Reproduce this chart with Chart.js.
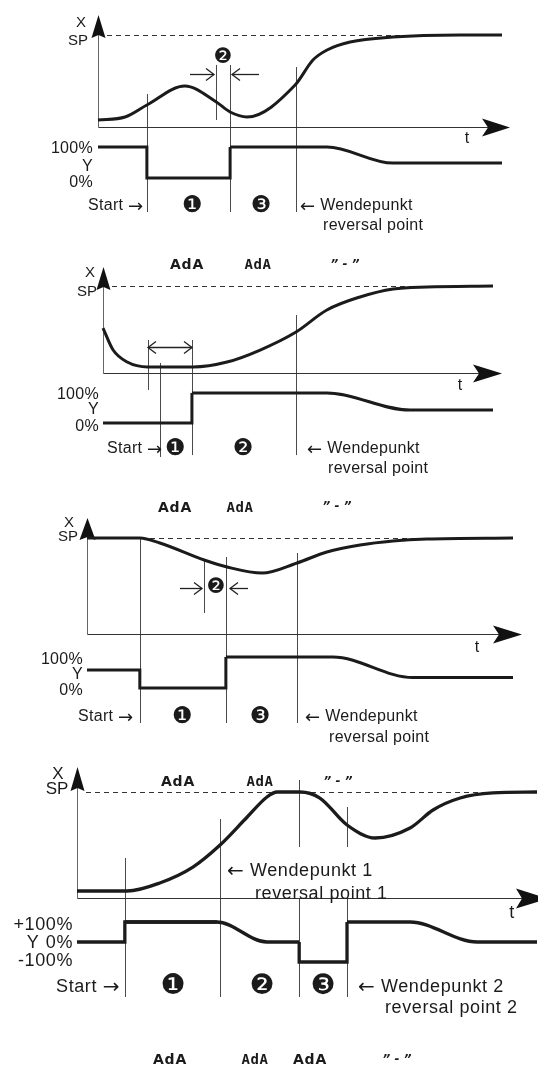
<!DOCTYPE html>
<html><head><meta charset="utf-8">
<script src="https://cdn.jsdelivr.net/npm/chart.js@4/dist/chart.umd.min.js"></script>
<style>
html,body{margin:0;padding:0;background:#fff;}
#wrap{position:relative;width:538px;height:1068px;overflow:hidden;}
canvas{position:absolute;left:0;}
</style></head>
<body><div id="wrap">
<canvas id="c1" width="538" height="240" style="top:0px"></canvas>
<canvas id="c2" width="538" height="240" style="top:240px"></canvas>
<canvas id="c3" width="538" height="270" style="top:480px"></canvas>
<canvas id="c4" width="538" height="318" style="top:750px"></canvas>
</div>
<script>
// ================= DATA (time 0..100 along t axis; X in % of SP; Y in %) =================
// Panel 1
const p1XTime  = [0, 6.7, 12.1, 21.5, 29.2, 32.7, 36.9, 48.8, 53.2, 56.7, 62.4, 73.0, 89.6, 100];
const p1XValue = [7.6, 10.9, 23.9, 44.6, 27.5, 16.3, 10.9, 45.7, 72.8, 83.7, 92.4, 97.8, 100, 100];
const p1YStepTime  = [0, 12.1, 12.1, 32.7, 32.7];
const p1YStepValue = [100, 100, 0, 0, 100];
const p1YSmoothTime  = [32.7, 56.7, 73.0, 100];
const p1YSmoothValue = [100, 100, 48, 48];
const p1Events = [12.1, 29.2, 32.7, 49.0];

// Panel 2
const p2XTime  = [0, 2.6, 6.2, 11.5, 23.1, 31.8, 40.3, 49.5, 57.4, 65.9, 74.4, 83.1, 100];
const p2XValue = [51.7, 26.4, 12.6, 6.9, 6.9, 12.6, 26.4, 47.1, 72.4, 87.4, 96.6, 98.9, 100];
const p2YStepTime  = [0, 22.8, 22.8];
const p2YStepValue = [0, 0, 100];
const p2YSmoothTime  = [22.8, 57.4, 78.7, 100];
const p2YSmoothValue = [100, 100, 43, 43];
const p2Events = [11.5, 14.6, 22.8, 49.5];

// Panel 3
const p3XTime  = [0, 12.4, 17.1, 27.5, 32.9, 41.1, 49.3, 56.3, 64.1, 71.8, 79.8, 100];
const p3XValue = [100, 100, 94.8, 77.1, 69.8, 63.5, 74.0, 85.4, 92.7, 96.9, 99.0, 100];
const p3YStepTime  = [0, 12.4, 12.4, 32.6, 32.6];
const p3YStepValue = [58, 58, 0, 0, 100];
const p3YSmoothTime  = [32.6, 57.7, 76.5, 100];
const p3YSmoothValue = [100, 100, 33.5, 33.5];
const p3Events = [12.4, 27.5, 32.6, 49.3];

// Panel 4
const p4XTime  = [0, 10.9, 18.0, 25.2, 31.1, 37.0, 41.3, 43.5, 48.5, 52.8, 58.7, 64.8, 72.4, 77.4, 83.3, 90.4, 100];
const p4XValue = [6.6, 6.6, 14.2, 29.2, 50.0, 76.4, 95.3, 100, 100, 94.3, 68.9, 56.6, 66.0, 83.0, 94.3, 99.1, 100];
const p4YStepATime  = [0, 10.4, 10.4, 30.4];
const p4YStepAValue = [0, 0, 100, 100];
const p4YSmoothATime  = [10.4, 30.4, 41.3, 48.3];
const p4YSmoothAValue = [100, 100, 0, 0];
const p4YStepBTime  = [48.3, 48.3, 58.7, 58.7];
const p4YStepBValue = [0, -100, -100, 100];
const p4YSmoothBTime  = [58.7, 72.4, 87.0, 100];
const p4YSmoothBValue = [100, 100, 0, 0];
const p4Events = [10.4, 31.1, 48.3, 58.7];

// Text
const txtStart = 'Start \u2192';
const txtWende = '\u2190 Wendepunkt';
const txtRev = 'reversal point';
const txtAdA = 'AdA';
const txtDash = '\u201D - \u201D';
const N1 = '\u2776', N2 = '\u2777', N3 = '\u2778';

// ================= LAYOUT / STYLE =================
const W = 538;
const F = {
  lab: '16px "Liberation Sans", Arial, sans-serif',
  lab4: '18px "Liberation Sans", Arial, sans-serif',
  xs: '15px "Liberation Sans", Arial, sans-serif',
  xs4: '17px "Liberation Sans", Arial, sans-serif',
  num: '23px "DejaVu Sans", sans-serif',
  num2: '21px "DejaVu Sans", sans-serif',
  num4: '28px "DejaVu Sans", sans-serif',
  adaA: 'bold 14px "DejaVu Sans", sans-serif',
  adaB: 'bold 14px "DejaVu Sans Mono", monospace',
  dash: 'italic bold 12px "DejaVu Sans", sans-serif'
};
const ARROWFONT = { lab: '18px "DejaVu Sans", sans-serif', lab4: '20px "DejaVu Sans", sans-serif' };
const SPACING = { lab: '0.3px', lab4: '0.6px', adaA: '0.8px', adaB: '0.5px' };
const INK = '#1b1b1b';

const L1 = {
  id:'c1', height:240, axisX:98, endX:502, tAxisY:127, spY:35, y100:147, y0:178,
  yArrow:{tip:15, base:38, hw:7}, tArrow:{tip:510, back:482, hh:9}, dashFrom:107,
  events:p1Events, markers:[[[94,212]],[[65,120]],[[65,212]],[[67,212]]],
  dims:[{x1:190,x2:214,y:74,both:false},{x1:259,x2:232,y:74,both:false}],
  texts:[
    ['X',81,23,'center','xs'],['SP',78,41,'center','xs'],
    ['100%',93,149,'right','lab'],['Y',93,167,'right','lab'],['0%',93,183,'right','lab'],
    ['t',467,139,'center','lab'],
    [N2,223,58,'center','num2'],
    [txtStart,88,206,'left','lab'],[N1,192,206,'center','num'],[N3,261,206,'center','num'],
    [txtWende,300,206,'left','lab'],[txtRev,323,226,'left','lab']
  ]
};
const L2 = {
  id:'c2', height:240, axisX:103, endX:493, tAxisY:133, spY:46, y100:153, y0:183,
  yArrow:{tip:27, base:50, hw:7}, tArrow:{tip:502, back:473, hh:9}, dashFrom:112,
  events:p2Events, markers:[[[100,150]],[[123,217]],[[100,215]],[[75,215]]],
  dims:[{x1:148,x2:192,y:107,both:true}],
  texts:[
    ['X',90,33,'center','xs'],['SP',87,52,'center','xs'],
    [txtAdA,187,25,'center','adaA'],[txtAdA,258,25,'center','adaB'],[txtDash,345,25,'center','dash'],
    ['100%',99,155,'right','lab'],['Y',99,170,'right','lab'],['0%',99,187,'right','lab'],
    ['t',460,146,'center','lab'],
    [txtStart,107,209,'left','lab'],[N1,175,209,'center','num'],[N2,243,209,'center','num'],
    [txtWende,307,209,'left','lab'],[txtRev,328,229,'left','lab']
  ]
};
const L3 = {
  id:'c3', height:270, axisX:87, endX:513, tAxisY:154, spY:58, y100:177, y0:208,
  yArrow:{tip:38, base:60, hw:8}, tArrow:{tip:522, back:493, hh:9}, dashFrom:96,
  events:p3Events, markers:[[[58,243]],[[80,133]],[[77,243]],[[73,243]]],
  dims:[{x1:180,x2:202,y:108,both:false},{x1:248,x2:230,y:108,both:false}],
  texts:[
    ['X',69,43,'center','xs'],['SP',68,57,'center','xs'],
    [txtAdA,175,28,'center','adaA'],[txtAdA,240,28,'center','adaB'],[txtDash,337,27,'center','dash'],
    [N2,216,108,'center','num2'],
    ['100%',83,180,'right','lab'],['Y',83,195,'right','lab'],['0%',83,211,'right','lab'],
    ['t',477,168,'center','lab'],
    [txtStart,78,237,'left','lab'],[N1,182,237,'center','num'],[N3,260,237,'center','num'],
    [txtWende,305,237,'left','lab'],[txtRev,329,258,'left','lab']
  ]
};
const L4 = {
  id:'c4', height:318, axisX:77, endX:537, tAxisY:148, spY:42, y100:172, y0:192,
  yArrow:{tip:17, base:41, hw:7}, tArrow:{tip:548, back:516, hh:10}, dashFrom:86,
  events:p4Events, markers:[[[108,247]],[[69,247]],[[30,97],[148,247]],[[57,97],[148,247]]],
  dims:[],
  texts:[
    ['X',58,24,'center','xs4'],['SP',57,39,'center','xs4'],
    [txtAdA,178,32,'center','adaA'],[txtAdA,260,32,'center','adaB'],[txtDash,338,32,'center','dash'],
    ['\u2190 Wendepunkt 1',227,121,'left','lab4'],['reversal point 1',255,144,'left','lab4'],
    ['t',512,163,'center','lab4'],
    ['+100%',73,175,'right','lab4'],['Y',33,193,'center','lab4'],['0%',73,193,'right','lab4'],['-100%',73,211,'right','lab4'],
    [txtStart,120,237,'right','lab4'],[N1,173,237,'center','num4'],[N2,262,237,'center','num4'],[N3,323,237,'center','num4'],
    ['\u2190 Wendepunkt 2',358,237,'left','lab4'],['reversal point 2',385,258,'left','lab4'],
    [txtAdA,170,310,'center','adaA'],[txtAdA,255,310,'center','adaB'],[txtAdA,310,310,'center','adaA'],[txtDash,397,310,'center','dash']
  ]
};

// ================= DRAWING =================
function openHead(ctx, x1, x2, y) {
  const d = x2 > x1 ? -1 : 1;
  ctx.beginPath();
  ctx.moveTo(x2 + d*8, y - 6); ctx.lineTo(x2, y); ctx.lineTo(x2 + d*8, y + 6);
  ctx.stroke();
}
function drawRich(ctx, s, x, y, align, fk) {
  const base = F[fk], af = ARROWFONT[fk];
  ctx.letterSpacing = SPACING[fk] || '0px';
  if (!af || !/[\u2190\u2192]/.test(s)) {
    ctx.font = base; ctx.textAlign = align; ctx.fillText(s, x, y); return;
  }
  const parts = s.split(/([\u2190\u2192])/).filter(p => p.length);
  const widths = parts.map(p => { ctx.font = /[\u2190\u2192]/.test(p) ? af : base; return ctx.measureText(p).width; });
  const total = widths.reduce((a, b) => a + b, 0);
  let cx = align === 'right' ? x - total : (align === 'center' ? x - total / 2 : x);
  ctx.textAlign = 'left';
  parts.forEach((p, i) => {
    const isA = /[\u2190\u2192]/.test(p);
    ctx.font = isA ? af : base;
    ctx.fillText(p, cx, isA ? y + 1 : y);
    cx += widths[i];
  });
}
function makeDecor(L) {
  return {
    id: 'decor' + L.id,
    beforeDatasetsDraw(chart) {
      const ctx = chart.ctx, x = chart.scales.x, yX = chart.scales.yX;
      const ax = Math.round(x.getPixelForValue(0)) + 0.5;
      const tY = Math.round(yX.getPixelForValue(0)) + 0.5;
      const sp = Math.round(yX.getPixelForValue(100)) + 0.5;
      ctx.save();
      ctx.strokeStyle = '#333'; ctx.lineWidth = 1; ctx.setLineDash([5, 4]);
      ctx.beginPath(); ctx.moveTo(L.dashFrom, sp); ctx.lineTo(x.getPixelForValue(100), sp); ctx.stroke();
      ctx.setLineDash([]);
      ctx.strokeStyle = '#4a4a4a';
      L.events.forEach((t, i) => {
        const px = Math.round(x.getPixelForValue(t)) + 0.5;
        L.markers[i].forEach(s => { ctx.beginPath(); ctx.moveTo(px, s[0]); ctx.lineTo(px, s[1]); ctx.stroke(); });
      });
      ctx.strokeStyle = '#222'; ctx.lineWidth = 1.3;
      L.dims.forEach(d => {
        ctx.beginPath(); ctx.moveTo(d.x1, d.y + 0.5); ctx.lineTo(d.x2, d.y + 0.5); ctx.stroke();
        openHead(ctx, d.x1, d.x2, d.y + 0.5);
        if (d.both) openHead(ctx, d.x2, d.x1, d.y + 0.5);
      });
      ctx.strokeStyle = '#666'; ctx.lineWidth = 1;
      ctx.beginPath(); ctx.moveTo(ax, L.yArrow.base - 4); ctx.lineTo(ax, tY); ctx.stroke();
      ctx.fillStyle = '#111';
      ctx.beginPath();
      ctx.moveTo(ax, L.yArrow.tip);
      ctx.lineTo(ax + L.yArrow.hw, L.yArrow.base);
      ctx.lineTo(ax, L.yArrow.base - 3);
      ctx.lineTo(ax - L.yArrow.hw, L.yArrow.base);
      ctx.closePath(); ctx.fill();
      ctx.strokeStyle = '#333'; ctx.lineWidth = 1;
      ctx.beginPath(); ctx.moveTo(ax, tY); ctx.lineTo(L.tArrow.back + 6, tY); ctx.stroke();
      ctx.beginPath();
      ctx.moveTo(L.tArrow.tip, tY);
      ctx.lineTo(L.tArrow.back, tY - L.tArrow.hh);
      ctx.lineTo(L.tArrow.back + 6, tY);
      ctx.lineTo(L.tArrow.back, tY + L.tArrow.hh);
      ctx.closePath(); ctx.fill();
      ctx.restore();
    },
    afterDatasetsDraw(chart) {
      const ctx = chart.ctx;
      ctx.save();
      ctx.fillStyle = INK; ctx.textBaseline = 'middle';
      L.texts.forEach(([s, tx, ty, al, fk]) => drawRich(ctx, s, tx, ty, al, fk));
      ctx.restore();
    }
  };
}
function ds(times, values, axis, smooth, w) {
  return {
    data: times.map((t, i) => ({x: t, y: values[i]})),
    xAxisID: 'x', yAxisID: axis,
    borderColor: INK, borderWidth: w || 3, pointRadius: 0, fill: false, clip: false,
    tension: 0, cubicInterpolationMode: smooth ? 'monotone' : 'default',
    borderJoinStyle: 'miter', borderCapStyle: 'butt'
  };
}
function makeChart(L, datasets) {
  const k = (L.endX - L.axisX) / 100;
  const uX = (L.tAxisY - L.spY) / 100;
  const uY = (L.y0 - L.y100) / 100;
  new Chart(document.getElementById(L.id), {
    type: 'line',
    data: { datasets },
    options: {
      responsive: false, animation: false, devicePixelRatio: 1, events: [],
      layout: { padding: 0 },
      plugins: { legend: { display: false }, tooltip: { enabled: false } },
      elements: { point: { radius: 0 } },
      scales: {
        x:  { type: 'linear', display: false, min: -L.axisX / k, max: (W - L.axisX) / k },
        yX: { type: 'linear', display: false, min: (L.tAxisY - L.height) / uX, max: L.tAxisY / uX },
        yY: { type: 'linear', display: false, min: (L.y0 - L.height) / uY, max: L.y0 / uY }
      }
    },
    plugins: [makeDecor(L)]
  });
}

makeChart(L1, [
  ds(p1XTime, p1XValue, 'yX', true),
  ds(p1YStepTime, p1YStepValue, 'yY', false),
  ds(p1YSmoothTime, p1YSmoothValue, 'yY', true)
]);
makeChart(L2, [
  ds(p2XTime, p2XValue, 'yX', true),
  ds(p2YStepTime, p2YStepValue, 'yY', false),
  ds(p2YSmoothTime, p2YSmoothValue, 'yY', true)
]);
makeChart(L3, [
  ds(p3XTime, p3XValue, 'yX', true),
  ds(p3YStepTime, p3YStepValue, 'yY', false),
  ds(p3YSmoothTime, p3YSmoothValue, 'yY', true)
]);
makeChart(L4, [
  ds(p4XTime, p4XValue, 'yX', true, 3.3),
  ds(p4YStepATime, p4YStepAValue, 'yY', false, 3.3),
  ds(p4YSmoothATime, p4YSmoothAValue, 'yY', true, 3.3),
  ds(p4YStepBTime, p4YStepBValue, 'yY', false, 3.3),
  ds(p4YSmoothBTime, p4YSmoothBValue, 'yY', true, 3.3)
]);
</script>
</body></html>
